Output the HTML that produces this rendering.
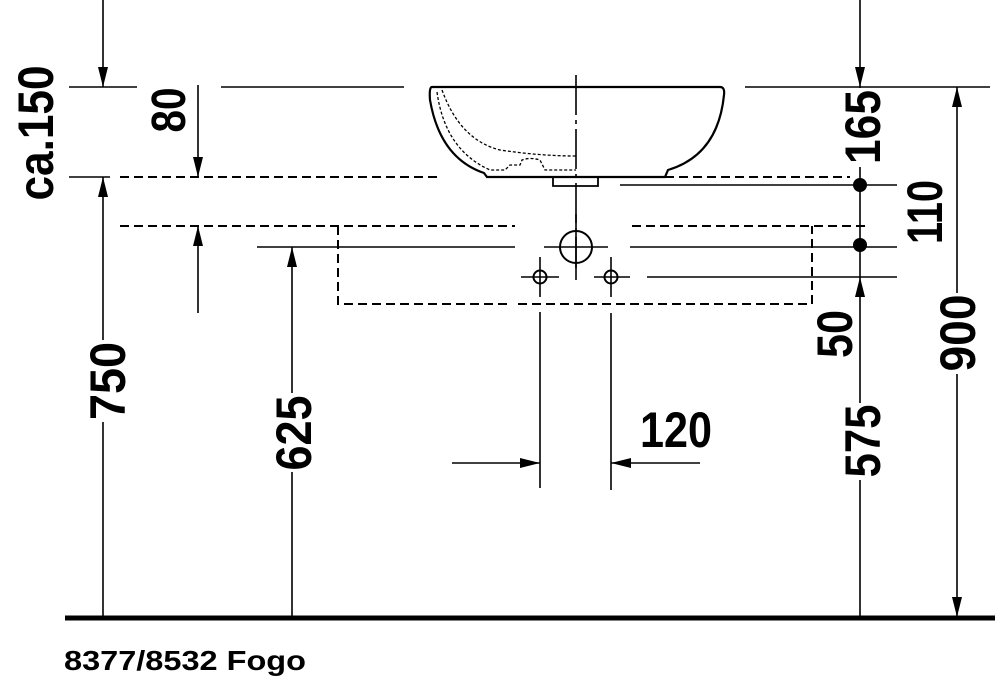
<!DOCTYPE html>
<html><head><meta charset="utf-8"><style>
html,body{margin:0;padding:0;background:#fff;}
svg{display:block;}
text{font-family:"Liberation Sans",Arial,sans-serif;font-weight:bold;fill:#000;}
</style></head><body>
<svg width="1001" height="680" viewBox="0 0 1001 680" xmlns="http://www.w3.org/2000/svg">
<defs>
<marker id="a" viewBox="0 0 20 10" refX="20" refY="5" markerWidth="20" markerHeight="10" markerUnits="userSpaceOnUse" orient="auto"><path d="M0,0 L20,5 L0,10 z" fill="#000"/></marker>
</defs>
<g stroke="#000" stroke-width="1.6" fill="none">
<line x1="69" y1="87" x2="137" y2="87"/>
<line x1="221" y1="87" x2="404" y2="87"/>
<line x1="745" y1="87" x2="990" y2="87"/>
<line x1="69" y1="177" x2="110" y2="177"/>
<line x1="120" y1="177" x2="440" y2="177" stroke-dasharray="9,5" stroke-width="2"/>
<line x1="487" y1="177" x2="665" y2="177" stroke-dasharray="9,5" stroke-width="2"/>
<line x1="665" y1="177" x2="850" y2="177" stroke-dasharray="9,5" stroke-width="2"/>
<line x1="620" y1="185" x2="897" y2="185"/>
<line x1="120" y1="226" x2="515" y2="226" stroke-dasharray="9,5" stroke-width="2"/>
<line x1="632" y1="226" x2="870" y2="226" stroke-dasharray="9,5" stroke-width="2"/>
<path d="M338,226 V304 H510 M518,304 H812 V226" stroke-dasharray="9,5" stroke-width="2"/>
<line x1="257" y1="247" x2="515" y2="247"/>
<line x1="630" y1="247" x2="897" y2="247"/>
<line x1="647" y1="277" x2="897" y2="277"/>
<circle cx="576" cy="247" r="16" stroke-width="2"/>
<line x1="544" y1="247" x2="608" y2="247"/>
<line x1="576" y1="214" x2="576" y2="280"/>
<circle cx="540" cy="277" r="6.5" stroke-width="2"/>
<line x1="521" y1="277" x2="559" y2="277"/><line x1="540" y1="257" x2="540" y2="297"/>
<circle cx="611" cy="277" r="6.5" stroke-width="2"/>
<line x1="594" y1="277" x2="630" y2="277"/><line x1="611" y1="257" x2="611" y2="297"/>
<line x1="540" y1="312" x2="540" y2="488"/>
<line x1="611" y1="313" x2="611" y2="490"/>
<line x1="452" y1="463" x2="540" y2="463" marker-end="url(#a)"/>
<line x1="700" y1="463" x2="611" y2="463" marker-end="url(#a)"/>
<line x1="103" y1="0" x2="103" y2="87" marker-end="url(#a)"/>
<line x1="103" y1="617" x2="103" y2="177" marker-end="url(#a)"/>
<line x1="198" y1="85" x2="198" y2="177" marker-end="url(#a)"/>
<line x1="198" y1="313" x2="198" y2="226" marker-end="url(#a)"/>
<line x1="292" y1="617" x2="292" y2="247" marker-end="url(#a)"/>
<line x1="860" y1="0" x2="860" y2="87" marker-end="url(#a)"/>
<line x1="860" y1="87" x2="860" y2="277"/>
<line x1="860" y1="617" x2="860" y2="277" marker-end="url(#a)"/>
<line x1="957" y1="350" x2="957" y2="87" marker-end="url(#a)"/>
<line x1="957" y1="350" x2="957" y2="617" marker-end="url(#a)"/>
<path d="M432,87 H720 Q725,87 724,95 Q718,155 668,170 L665,177 H487 L484,173 Q440,158 430,100 Q429,87 432,87 Z" stroke-width="2.2"/>
<path d="M553,177 V186 H598 V177" stroke-width="1.8"/>
<path d="M437,92 Q445,150 490,170 H505 L510,165 H520 L522,160 Q530,157 540,160 L545,170 H576" stroke-dasharray="3,2" stroke-width="1.3"/>
<path d="M442,90 Q460,140 500,150 Q540,156 576,156" stroke-dasharray="3,2" stroke-width="1.3"/>
<line x1="576" y1="75" x2="576" y2="268" stroke-dasharray="40,5,4,5" />
</g>
<line x1="65" y1="618" x2="995" y2="618" stroke="#000" stroke-width="5"/>
<circle cx="860" cy="185" r="7" fill="#000"/>
<circle cx="860" cy="245" r="7" fill="#000"/>
<g fill="#fff">
<rect x="86" y="340" width="40" height="82"/>
<rect x="273" y="393" width="40" height="79"/>
<rect x="841" y="88" width="41" height="79"/>
<rect x="841" y="403" width="41" height="77"/>
<rect x="936" y="293" width="41" height="81"/>
</g>
<g font-size="50" text-anchor="middle">
<text transform="translate(53,133) rotate(-90)" textLength="135" lengthAdjust="spacingAndGlyphs">ca.150</text>
<text transform="translate(185,110) rotate(-90)" textLength="45" lengthAdjust="spacingAndGlyphs" font-size="48">80</text>
<text transform="translate(125,381) rotate(-90)" textLength="78" lengthAdjust="spacingAndGlyphs">750</text>
<text transform="translate(311,433) rotate(-90)" textLength="75" lengthAdjust="spacingAndGlyphs">625</text>
<text transform="translate(880,127) rotate(-90)" textLength="74" lengthAdjust="spacingAndGlyphs">165</text>
<text transform="translate(942,212) rotate(-90)" textLength="64" lengthAdjust="spacingAndGlyphs">110</text>
<text transform="translate(852,334) rotate(-90)" textLength="48" lengthAdjust="spacingAndGlyphs">50</text>
<text transform="translate(975,333) rotate(-90)" textLength="77" lengthAdjust="spacingAndGlyphs">900</text>
<text transform="translate(880,441) rotate(-90)" textLength="73" lengthAdjust="spacingAndGlyphs">575</text>
<text x="676" y="447" textLength="72" lengthAdjust="spacingAndGlyphs">120</text>
</g>
<text x="64" y="670" font-size="28" textLength="242" lengthAdjust="spacingAndGlyphs">8377/8532 Fogo</text>
</svg>
</body></html>
